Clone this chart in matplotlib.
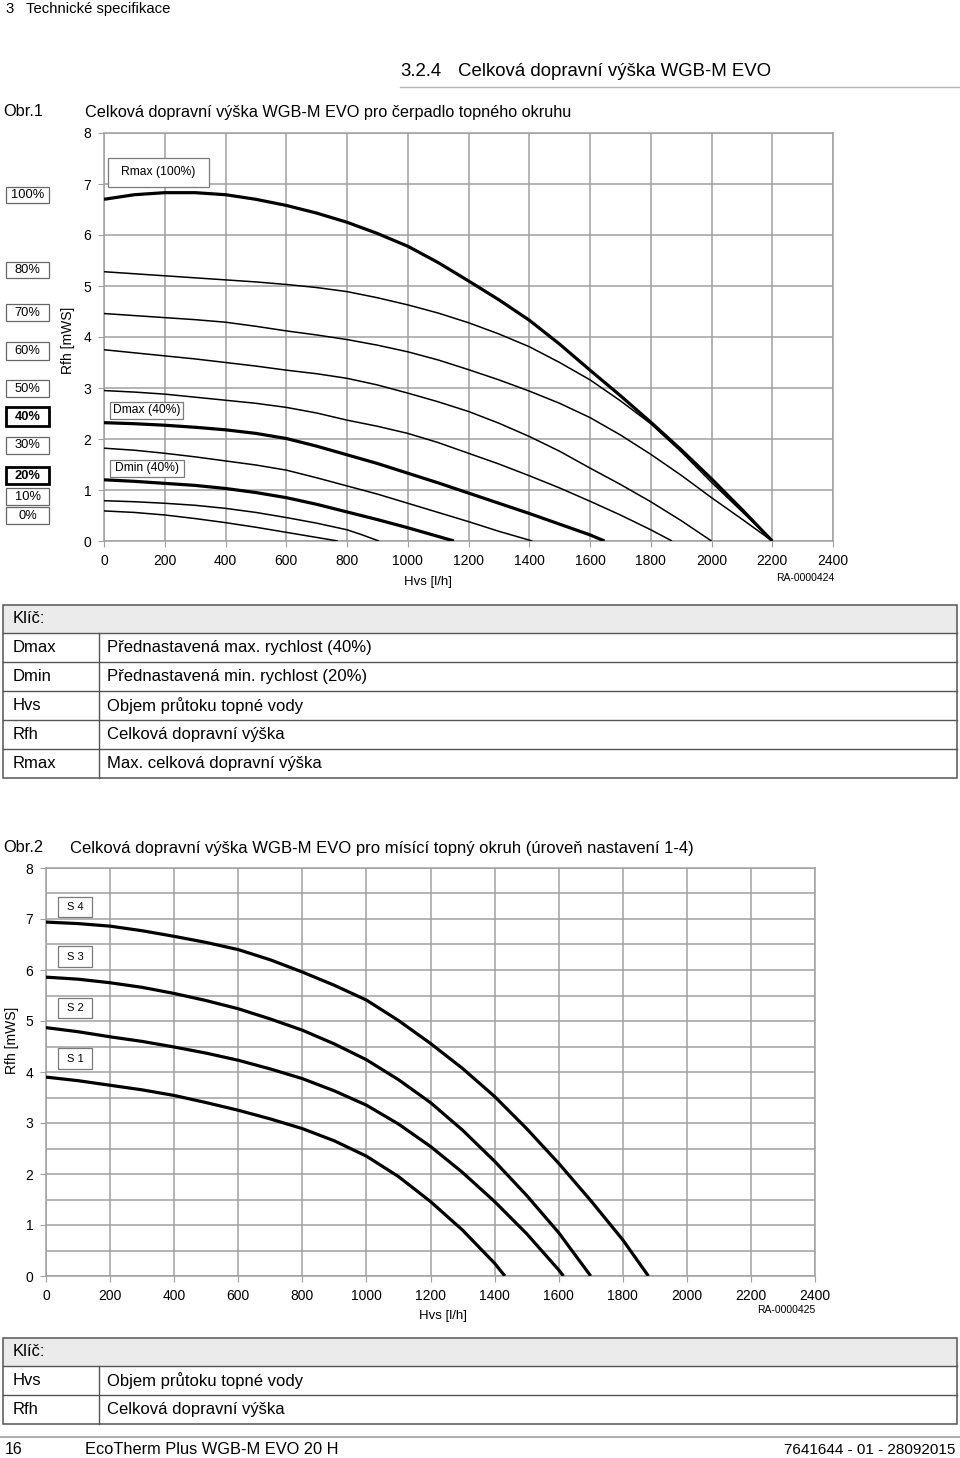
import matplotlib.pyplot as plt
from matplotlib.patches import Rectangle
from matplotlib.lines import Line2D

plt.rcParams['font.family'] = ['Liberation Sans', 'DejaVu Sans']

W, H = 960, 1458

# --- Obr.1 : pump curves per speed setting (Hvs [l/h] -> Rfh [mWS]) ---
hvs_0 = [0, 100, 200, 300, 400, 500, 600, 700, 770]
rfh_0 = [0.59, 0.56, 0.51, 0.44, 0.36, 0.27, 0.17, 0.07, 0]
hvs_10 = [0, 100, 200, 300, 400, 500, 600, 700, 800, 850, 905]
rfh_10 = [0.79, 0.77, 0.74, 0.70, 0.64, 0.56, 0.46, 0.35, 0.22, 0.12, 0]
hvs_20 = [0, 100, 200, 300, 400, 500, 600, 700, 800, 900, 1000, 1100, 1152]
rfh_20 = [1.20, 1.17, 1.13, 1.09, 1.03, 0.95, 0.85, 0.72, 0.57, 0.42, 0.26, 0.09, 0]
hvs_30 = [0, 100, 200, 300, 400, 500, 600, 700, 800, 900, 1000, 1100, 1200, 1300, 1410]
rfh_30 = [1.82, 1.78, 1.72, 1.65, 1.57, 1.49, 1.39, 1.24, 1.08, 0.92, 0.74, 0.56, 0.38, 0.19, 0]
hvs_40 = [0, 100, 200, 300, 400, 500, 600, 700, 800, 900, 1000, 1100, 1200, 1300, 1400, 1500, 1600, 1648]
rfh_40 = [2.32, 2.30, 2.27, 2.23, 2.18, 2.11, 2.01, 1.86, 1.69, 1.52, 1.33, 1.14, 0.94, 0.74, 0.54, 0.33,
          0.12, 0]
hvs_50 = [0, 100, 200, 300, 400, 500, 600, 700, 800, 900, 1000, 1100, 1200, 1300, 1400, 1500, 1600, 1700,
          1800, 1870]
rfh_50 = [2.95, 2.92, 2.88, 2.82, 2.76, 2.70, 2.62, 2.51, 2.37, 2.25, 2.11, 1.93, 1.72, 1.51, 1.28, 1.04,
          0.78, 0.51, 0.22, 0]
hvs_60 = [0, 100, 200, 300, 400, 500, 600, 700, 800, 900, 1000, 1100, 1200, 1300, 1400, 1500, 1600, 1700,
          1800, 1900, 2000]
rfh_60 = [3.75, 3.69, 3.63, 3.57, 3.50, 3.43, 3.35, 3.28, 3.19, 3.06, 2.90, 2.73, 2.54, 2.31, 2.05, 1.76,
          1.43, 1.11, 0.77, 0.40, 0]
hvs_70 = [0, 100, 200, 300, 400, 500, 600, 700, 800, 900, 1000, 1100, 1200, 1300, 1400, 1500, 1600, 1700,
          1800, 1900, 2000, 2100, 2200]
rfh_70 = [4.46, 4.42, 4.38, 4.34, 4.29, 4.21, 4.12, 4.04, 3.95, 3.84, 3.71, 3.55, 3.36, 3.16, 2.94, 2.70,
          2.42, 2.08, 1.70, 1.29, 0.85, 0.43, 0]
hvs_80 = [0, 100, 200, 300, 400, 500, 600, 700, 800, 900, 1000, 1100, 1200, 1300, 1400, 1500, 1600, 1700,
          1800, 1900, 2000, 2100, 2200]
rfh_80 = [5.28, 5.24, 5.20, 5.16, 5.12, 5.08, 5.03, 4.97, 4.89, 4.77, 4.63, 4.47, 4.28, 4.06, 3.81, 3.50,
          3.16, 2.75, 2.30, 1.75, 1.15, 0.58, 0]
hvs_100 = [0, 100, 200, 300, 400, 500, 600, 700, 800, 900, 1000, 1100, 1200, 1300, 1400, 1500, 1600, 1700,
           1800, 1900, 2000, 2100, 2200]
rfh_100 = [6.70, 6.79, 6.83, 6.83, 6.79, 6.70, 6.58, 6.43, 6.25, 6.03, 5.78, 5.46, 5.10, 4.73, 4.33, 3.86,
           3.35, 2.85, 2.33, 1.79, 1.22, 0.62, 0]

pct_labels = ['100%', '80%', '70%', '60%', '50%', '40%', '30%', '20%', '10%', '0%']
pct_bold = ['40%', '20%']

# --- Obr.2 : mixing circuit pump, settings S1..S4 ---
hvs_s1 = [0, 100, 200, 300, 400, 500, 600, 700, 800, 900, 1000, 1100, 1200, 1300, 1400, 1432]
rfh_s1 = [3.90, 3.83, 3.74, 3.65, 3.54, 3.40, 3.25, 3.08, 2.89, 2.65, 2.35, 1.95, 1.46, 0.90, 0.25, 0]
hvs_s2 = [0, 100, 200, 300, 400, 500, 600, 700, 800, 900, 1000, 1100, 1200, 1300, 1400, 1500, 1600, 1615]
rfh_s2 = [4.87, 4.79, 4.69, 4.60, 4.49, 4.37, 4.23, 4.06, 3.87, 3.63, 3.35, 2.98, 2.54, 2.03, 1.46, 0.83,
          0.12, 0]
hvs_s3 = [0, 100, 200, 300, 400, 500, 600, 700, 800, 900, 1000, 1100, 1200, 1300, 1400, 1500, 1600, 1700]
rfh_s3 = [5.86, 5.82, 5.75, 5.66, 5.54, 5.40, 5.24, 5.04, 4.82, 4.55, 4.24, 3.85, 3.40, 2.86, 2.25, 1.58,
          0.85, 0]
hvs_s4 = [0, 100, 200, 300, 400, 500, 600, 700, 800, 900, 1000, 1100, 1200, 1300, 1400, 1500, 1600, 1700,
          1800, 1880]
rfh_s4 = [6.94, 6.91, 6.86, 6.77, 6.66, 6.54, 6.40, 6.20, 5.96, 5.70, 5.41, 5.01, 4.56, 4.07, 3.52, 2.89,
          2.21, 1.48, 0.71, 0]

s_labels = ['S 4', 'S 3', 'S 2', 'S 1']

x_ticks = list(range(0, 2401, 200))
y_ticks = list(range(0, 9))

key1_names = ['Dmax', 'Dmin', 'Hvs', 'Rfh', 'Rmax']
key1_texts = ['Přednastavená max. rychlost (40%)', 'Přednastavená min. rychlost (20%)',
              'Objem průtoku topné vody', 'Celková dopravní výška', 'Max. celková dopravní výška']
key2_names = ['Hvs', 'Rfh']
key2_texts = ['Objem průtoku topné vody', 'Celková dopravní výška']


def fx(px):
    return px / W


def fy(py):
    return 1 - py / H


fig = plt.figure(figsize=(9.6, 14.58), dpi=100)
GRID = '#a0a0a0'


def setup_axes(left, right, top, bottom, minor_half=False):
    ax = fig.add_axes([fx(left), fy(bottom), fx(right) - fx(left), fy(top) - fy(bottom)])
    ax.set_xlim(0, 2400)
    ax.set_ylim(0, 8)
    ax.set_xticks(x_ticks)
    ax.set_yticks(y_ticks)
    ax.tick_params(labelsize=10, length=4, color=GRID, pad=5)
    if minor_half:
        ax.set_yticks([v + 0.5 for v in y_ticks[:-1]], minor=True)
        ax.tick_params(which='minor', length=0)
        ax.grid(True, which='both', axis='y', color=GRID, lw=1.1)
        ax.grid(True, which='major', axis='x', color=GRID, lw=1.1)
    else:
        ax.grid(True, color=GRID, lw=1.1)
    for s in ax.spines.values():
        s.set_color(GRID)
        s.set_linewidth(1.1)
    return ax


def box(x0, y0, x1, y1, text, fs=8.7, bold=False, ec='#7a7a7a', lw=0.9):
    fig.patches.append(Rectangle((fx(x0), fy(y1)), fx(x1) - fx(x0), fy(y0) - fy(y1),
                                 transform=fig.transFigure, fc='white', ec=ec, lw=lw, zorder=5))
    fig.text(fx((x0 + x1) / 2), fy((y0 + y1) / 2), text, ha='center', va='center',
             fontsize=fs, weight='bold' if bold else 'normal', zorder=6)


def hline(x0, x1, y, color='#555555', lw=1.0):
    fig.lines.append(Line2D([fx(x0), fx(x1)], [fy(y), fy(y)], transform=fig.transFigure,
                            color=color, lw=lw))


def vline(x, y0, y1, color='#555555', lw=1.0):
    fig.lines.append(Line2D([fx(x), fx(x)], [fy(y0), fy(y1)], transform=fig.transFigure,
                            color=color, lw=lw))


def key_table(top, names, texts):
    head_h, row_h = 28, 29
    bottom = top + head_h + row_h * len(names)
    fig.patches.append(Rectangle((fx(3), fy(top + head_h)), fx(957) - fx(3), fy(top) - fy(top + head_h),
                                 transform=fig.transFigure, fc='#ebebeb', ec='none'))
    fig.patches.append(Rectangle((fx(3), fy(bottom)), fx(957) - fx(3), fy(top) - fy(bottom),
                                 transform=fig.transFigure, fill=False, ec='#555555', lw=1.1))
    fig.text(fx(13), fy(top + head_h / 2), 'Klíč:', fontsize=12, va='center')
    for i, (n, t) in enumerate(zip(names, texts)):
        y0 = top + head_h + i * row_h
        hline(3, 957, y0)
        fig.text(fx(13), fy(y0 + row_h / 2), n, fontsize=12, va='center')
        fig.text(fx(107), fy(y0 + row_h / 2), t, fontsize=12, va='center')
    vline(99, top + head_h, bottom)


# page header
fig.text(fx(5), fy(9), '3', fontsize=10.7, va='center')
fig.text(fx(26), fy(9), 'Technické specifikace', fontsize=10.7, va='center')
fig.text(fx(400), fy(72), '3.2.4', fontsize=13.4, va='center')
fig.text(fx(458), fy(72), 'Celková dopravní výška WGB-M EVO', fontsize=13.4, va='center')
hline(400, 960, 87, color='#b5b5b5', lw=1.0)

# ---------------- Obr.1 ----------------
fig.text(fx(3), fy(112), 'Obr.1', fontsize=11.8, va='center')
fig.text(fx(85), fy(112), 'Celková dopravní výška WGB-M EVO pro čerpadlo topného okruhu',
         fontsize=11.7, va='center')

ax1 = setup_axes(104, 833, 133, 541)
curves1 = [(hvs_0, rfh_0, 1.1), (hvs_10, rfh_10, 1.1), (hvs_20, rfh_20, 2.3),
           (hvs_30, rfh_30, 1.1), (hvs_40, rfh_40, 2.3), (hvs_50, rfh_50, 1.1),
           (hvs_60, rfh_60, 1.1), (hvs_70, rfh_70, 1.1), (hvs_80, rfh_80, 1.1),
           (hvs_100, rfh_100, 2.3)]
for xs, ys, lw in curves1:
    ax1.plot(xs, ys, color='black', lw=lw, solid_capstyle='butt', solid_joinstyle='round', zorder=3)

fig.text(fx(68), fy(340), 'Rfh [mWS]', rotation=90, fontsize=10, ha='center', va='center')
fig.text(fx(428), fy(582), 'Hvs [l/h]', fontsize=9.5, ha='center', va='center')
fig.text(fx(834), fy(578), 'RA-0000424', fontsize=7.5, ha='right', va='center')

# speed percentage boxes on the left margin
pct_box_y = [(187, 203), (262, 278), (304, 321), (342, 360), (380, 397),
             (407, 426), (437, 454), (467, 484), (488, 505), (507, 524)]
for lab, (y0, y1) in zip(pct_labels, pct_box_y):
    bold = lab in pct_bold
    box(6, y0, 49, y1, lab, fs=9.3, bold=bold,
        ec='black' if bold else '#666666', lw=2.0 if bold else 0.9)

box(108, 158, 209, 187, 'Rmax (100%)')
box(110, 402, 183, 419, 'Dmax (40%)')
box(110, 460, 184, 477, 'Dmin (40%)')

key_table(605, key1_names, key1_texts)

# ---------------- Obr.2 ----------------
fig.text(fx(3), fy(848), 'Obr.2', fontsize=11.8, va='center')
fig.text(fx(70), fy(848), 'Celková dopravní výška WGB-M EVO pro mísící topný okruh (úroveň nastavení 1-4)',
         fontsize=12, va='center')

ax2 = setup_axes(46, 815, 868, 1276, minor_half=True)
for xs, ys in [(hvs_s1, rfh_s1), (hvs_s2, rfh_s2), (hvs_s3, rfh_s3), (hvs_s4, rfh_s4)]:
    ax2.plot(xs, ys, color='black', lw=2.3, solid_capstyle='butt', solid_joinstyle='round', zorder=3)

fig.text(fx(12), fy(1040), 'Rfh [mWS]', rotation=90, fontsize=10, ha='center', va='center')
fig.text(fx(443), fy(1316), 'Hvs [l/h]', fontsize=9.5, ha='center', va='center')
fig.text(fx(815), fy(1310), 'RA-0000425', fontsize=7.5, ha='right', va='center')

for lab, (y0, y1) in zip(s_labels, [(897, 917), (946, 967), (998, 1018), (1048, 1069)]):
    box(58, y0, 92, y1, lab, fs=8)

key_table(1338, key2_names, key2_texts)

# footer
hline(0, 960, 1437, color='#b0b0b0', lw=1.5)
fig.text(fx(5), fy(1450), '16', fontsize=11.5, va='center')
fig.text(fx(85), fy(1450), 'EcoTherm Plus WGB-M EVO 20 H', fontsize=11.8, va='center')
fig.text(fx(955), fy(1450), '7641644 - 01 - 28092015', fontsize=11, ha='right', va='center')

fig.savefig('out.png', dpi=100)
